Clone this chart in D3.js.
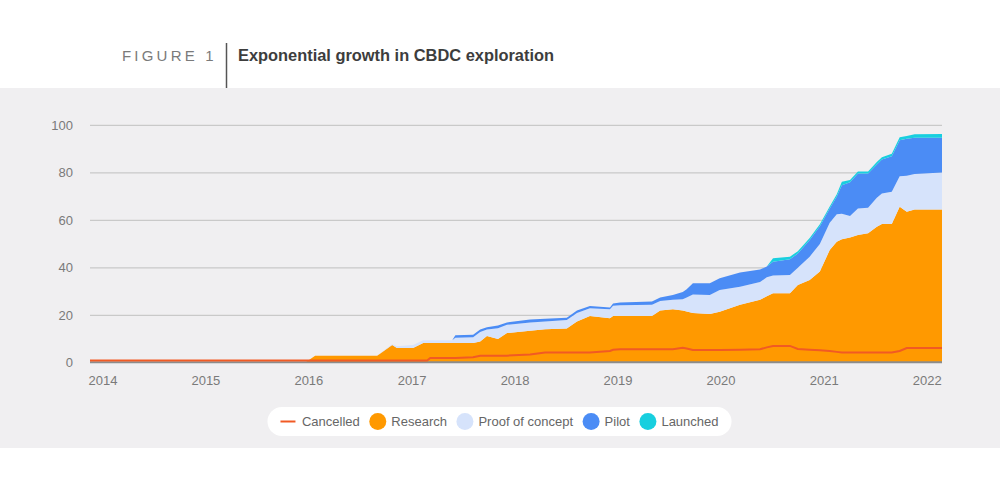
<!DOCTYPE html>
<html>
<head>
<meta charset="utf-8">
<script src="https://cdn.jsdelivr.net/npm/d3@7"></script>
<style>
  body { margin: 0; background: #fff; }
  svg { display: block; font-family: "Liberation Sans", Arial, sans-serif; }
</style>
</head>
<body>
<div id="chart"></div>
<script>
// values (count of countries), layers are thicknesses
const dates = ["2013-11-18","2015-12-20","2016-01-25","2016-09-01","2016-10-24","2016-11-10","2017-01-06","2017-02-11",
  "2017-02-25","2017-03-08","2017-05-25","2017-06-05","2017-08-07","2017-09-01","2017-09-25","2017-11-03","2017-12-05",
  "2018-02-25","2018-04-19","2018-07-05","2018-08-10","2018-09-25","2018-12-05","2018-12-16","2019-01-10","2019-05-03",
  "2019-06-01","2019-07-16","2019-08-20","2019-09-03","2019-09-25","2019-11-24","2019-12-29","2020-03-10","2020-05-20",
  "2020-06-13","2020-07-05","2020-09-03","2020-10-01","2020-11-12","2020-12-18","2021-01-22","2021-02-16","2021-03-06",
  "2021-04-04","2021-05-02","2021-06-07","2021-07-08","2021-07-26","2021-08-30","2021-09-27","2021-10-22","2021-11-19",
  "2022-02-24"];
const cancelled = [1,1,1,1,1,1,1,1, 1,2,2,2,2.3,3,3,3,3, 3.5,4.3,4.3,4.3,4.3,5,5.5,5.7,5.7,
  5.7,5.7,6.3,6,5.4,5.4,5.4,5.5,5.7, 6.5,7.1,7.1,5.8,5.5,5.3,5,4.6,4.3,
  4.3,4.3,4.3,4.3,4.3,4.3,5,6.2,6.2, 6.2];
const research = [0,0,3,3,7.5,6.2,6.2,8.3, 8.3,8.3,8.3,8.3,8.3,9,11.3,10,12.5, 13.5,14.1,14.4,17.4,19.7,18.8,19.7,19.7,19.7,
  22,22.5,22,21.6,21,20.6,21.5,24.4,26.5, 28,29.3,29.3,32.8,34.9,38.4,47.5,51,52,
  52.8,53.8,54.6,57.3,58.4,58.4,65.7,63.6,64.6, 64.6];
const proofOfConcept = [0,0,0,0,0.3,0.8,1.3,1.2, 1.2,1.2,1.2,2.3,2.5,4,2.7,4.5,3.5, 3.5,3.3,3.6,3.6,3.3,3.7,4.3,4.5,4.7,
  4,4,4.8,5.9,7.8,8,9.2,7.6,7.5, 8,7.5,7.7,7.2,9.8,11.6,11.5,11.5,10.8,
  9,11.2,10.7,12.2,12.9,13.6,12.9,15.2,14.9, 15.5];
const pilot = [0,0,0,0,0,0,0,0, 0,0,0,1,1,1,1,1.2,1, 1.2,1.1,1,1,0.9,0.8,1,1.2,1.4,
  1.5,2,3,3.5,4.7,4.9,4.9,6,5.3, 4.5,5.7,6.6,6,7,7.5,6,7.5,12,
  14.2,14.7,14.4,14,14.3,15,15.1,15.5,15.3, 14.7];
const launched = [0,0,0,0,0,0,0,0, 0,0,0,0,0,0,0,0,0, 0,0,0,0,0,0,0,0,0,
  0,0,0,0,0,0,0,0,0, 0,1.5,1.1,1,0.8,0.8,0.8,1,1.4,
  1,0.9,0.9,1,0.9,1,1.3,1.2,1.4, 1.5];
const yearTicks = [2014, 2015, 2016, 2017, 2018, 2019, 2020, 2021, 2022];
const yTicks = [0, 20, 40, 60, 80, 100];

const layerKeys = ["research", "proofOfConcept", "pilot", "launched"];
const colors = { cancelled: "#f15a24", research: "#ff9900", proofOfConcept: "#d6e3fb", pilot: "#4b8cf5", launched: "#18cfdf" };
const legendItems = [
  { key: "cancelled", label: "Cancelled", type: "line" },
  { key: "research", label: "Research" },
  { key: "proofOfConcept", label: "Proof of concept" },
  { key: "pilot", label: "Pilot" },
  { key: "launched", label: "Launched" }
];

const parse = d3.timeParse("%Y-%m-%d");
const rows = dates.map((d, i) => ({
  date: parse(d),
  cancelled: cancelled[i],
  research: research[i],
  proofOfConcept: proofOfConcept[i],
  pilot: pilot[i],
  launched: launched[i]
}));

const width = 1000, height = 491;
const svg = d3.select("#chart").append("svg")
  .attr("width", width)
  .attr("height", height);

// grey panel behind chart
svg.append("rect")
  .attr("x", 0).attr("y", 88)
  .attr("width", width).attr("height", 360)
  .attr("fill", "#f0eff1");

// heading
svg.append("text")
  .attr("x", 122).attr("y", 61)
  .attr("font-size", 15)
  .attr("letter-spacing", 3.2)
  .attr("fill", "#7a7a7a")
  .text("FIGURE 1");
svg.append("line")
  .attr("x1", 226.5).attr("x2", 226.5)
  .attr("y1", 43).attr("y2", 88)
  .attr("stroke", "#555").attr("stroke-width", 1.5);
svg.append("text")
  .attr("x", 238).attr("y", 61)
  .attr("font-size", 16.4)
  .attr("font-weight", "bold")
  .attr("fill", "#3d3d3d")
  .text("Exponential growth in CBDC exploration");

const x = d3.scaleTime()
  .domain([rows[0].date, rows[rows.length - 1].date])
  .range([90, 942]);

const y = d3.scaleLinear()
  .domain([0, 100])
  .range([362.8, 125.3]);

// gridlines
svg.append("g")
  .selectAll("line")
  .data(yTicks.filter(t => t > 0))
  .enter().append("line")
  .attr("x1", 90).attr("x2", 942)
  .attr("y1", d => y(d)).attr("y2", d => y(d))
  .attr("stroke", "#c9c9c9")
  .attr("stroke-width", 1.3);

const yAxis = svg.append("g")
  .attr("transform", "translate(90,0)")
  .call(d3.axisLeft(y).tickValues(yTicks).tickSize(0).tickPadding(17));
yAxis.select(".domain").remove();
yAxis.selectAll("text")
  .attr("font-family", "Liberation Sans, Arial, sans-serif")
  .attr("font-size", 13)
  .attr("fill", "#7a7a7a");

const stack = d3.stack().keys(layerKeys);
const series = stack(rows);

const area = d3.area()
  .x(d => x(d.data.date))
  .y0(d => y(d[0]))
  .y1(d => y(d[1]));

svg.append("g")
  .selectAll("path")
  .data(series)
  .enter().append("path")
  .attr("d", area)
  .attr("fill", d => colors[d.key]);

// baseline
svg.append("line")
  .attr("x1", 90).attr("x2", 942)
  .attr("y1", y(0) - 0.5).attr("y2", y(0) - 0.5)
  .attr("stroke", "#8c8c8c")
  .attr("stroke-width", 2);

const line = d3.line()
  .x(d => x(d.date))
  .y(d => y(d.cancelled));

svg.append("path")
  .datum(rows)
  .attr("d", line)
  .attr("fill", "none")
  .attr("stroke", colors.cancelled)
  .attr("stroke-width", 2);

const xAxis = svg.append("g")
  .attr("transform", "translate(0," + y(0) + ")")
  .call(d3.axisBottom(x)
    .tickValues(yearTicks.map(t => new Date(t, 0, 1)))
    .tickFormat(d3.timeFormat("%Y"))
    .tickSize(0)
    .tickPadding(13));
xAxis.select(".domain").remove();
xAxis.selectAll("text")
  .attr("font-family", "Liberation Sans, Arial, sans-serif")
  .attr("font-size", 13)
  .attr("fill", "#7a7a7a");

// legend pill
const legend = svg.append("g");
const pill = legend.append("rect")
  .attr("y", 407).attr("height", 29)
  .attr("rx", 14.5)
  .attr("fill", "#fff");

let cursor = 0;
const legendY = 421.5;
const items = legend.append("g");
legendItems.forEach((item, i) => {
  if (i > 0) cursor += 9.5;
  if (item.type === "line") {
    items.append("line")
      .attr("x1", cursor).attr("x2", cursor + 15)
      .attr("y1", legendY).attr("y2", legendY)
      .attr("stroke", colors[item.key])
      .attr("stroke-width", 2);
    cursor += 21.5;
  } else {
    items.append("circle")
      .attr("cx", cursor + 8.5).attr("cy", legendY)
      .attr("r", 8.5)
      .attr("fill", colors[item.key]);
    cursor += 22;
  }
  const t = items.append("text")
    .attr("x", cursor).attr("y", legendY)
    .attr("dy", "0.35em")
    .attr("font-size", 13)
    .attr("fill", "#666")
    .text(item.label);
  cursor += t.node().getComputedTextLength();
});
const pad = 13;
const left = 499.5 - (cursor + 2 * pad) / 2;
items.attr("transform", "translate(" + (left + pad) + ",0)");
pill.attr("x", left).attr("width", cursor + 2 * pad);
</script>
</body>
</html>
